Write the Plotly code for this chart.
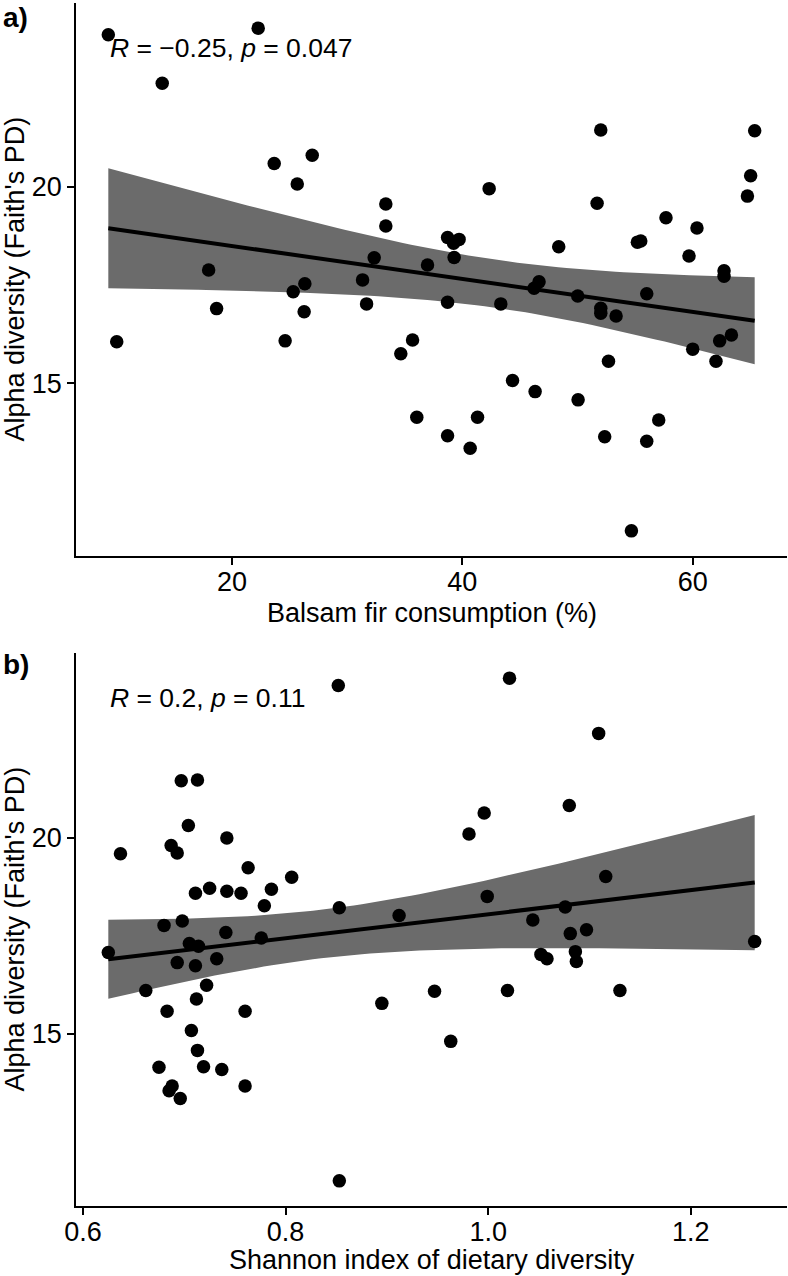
import numpy as np
import plotly.graph_objects as go
from plotly.subplots import make_subplots

# ---------------- data ----------------
fir_pct = [9.27, 22.28, 13.95, 23.67, 26.97, 25.67, 33.36, 33.36, 32.35, 17.98,
           26.33, 25.32, 31.34, 31.69, 26.27, 18.67, 10.00, 24.62, 34.66, 35.68,
           36.05, 38.72, 38.72, 40.68, 41.32, 43.34, 44.36, 46.32, 46.23, 46.66,
           50.02, 50.05, 52.02, 52.02, 53.35, 52.69, 52.36, 54.68, 56.01, 57.05,
           56.01, 60.00, 62.02, 62.34, 63.36, 62.72, 62.72, 52.02, 65.38, 65.03,
           64.75, 42.33, 51.70, 57.68, 60.37, 38.72, 39.72, 39.24, 39.29, 48.37,
           55.20, 55.49, 59.68, 36.98]
faith_a = [23.86, 24.03, 22.63, 20.59, 20.80, 20.07, 19.56, 19.00, 18.19, 17.88,
           17.53, 17.33, 17.63, 17.02, 16.82, 16.90, 16.06, 16.08, 15.75, 16.10,
           14.14, 17.06, 13.67, 13.35, 14.14, 17.02, 15.07, 14.79, 17.42, 17.58,
           17.22, 14.58, 16.91, 16.78, 16.71, 15.56, 13.64, 11.25, 13.53, 14.07,
           17.28, 15.87, 15.56, 16.08, 16.23, 17.86, 17.72, 21.44, 21.42, 20.28,
           19.76, 19.95, 19.58, 19.21, 18.95, 18.71, 18.66, 18.56, 18.20, 18.47,
           18.59, 18.62, 18.24, 18.01]

shannon = [0.852, 0.697, 0.713, 0.704, 0.742, 0.637, 0.687, 0.693, 0.763, 0.806,
           0.725, 0.711, 0.742, 0.756, 0.786, 0.779, 0.853, 0.912, 0.680, 0.698,
           0.741, 0.776, 0.705, 0.714, 0.625, 0.693, 0.711, 0.732, 0.662, 0.722,
           0.712, 0.683, 0.760, 0.895, 0.707, 0.713, 0.675, 0.719, 0.737, 0.688,
           0.685, 0.696, 0.760, 0.853, 1.021, 1.109, 1.080, 0.996, 0.981, 1.116,
           0.999, 1.076, 1.044, 1.081, 1.097, 1.263, 1.052, 1.058, 1.086, 1.087,
           0.947, 1.019, 1.130, 0.963]
faith_b = [23.88, 21.45, 21.47, 20.31, 19.99, 19.59, 19.80, 19.61, 19.23, 18.99,
           18.71, 18.58, 18.63, 18.58, 18.68, 18.26, 18.21, 18.01, 17.76, 17.87,
           17.58, 17.44, 17.30, 17.23, 17.07, 16.81, 16.73, 16.91, 16.10, 16.23,
           15.88, 15.57, 15.57, 15.77, 15.08, 14.57, 14.14, 14.15, 14.08, 13.66,
           13.54, 13.34, 13.66, 11.24, 24.07, 22.66, 20.82, 20.63, 20.09, 19.01,
           18.50, 18.23, 17.90, 17.55, 17.65, 17.35, 17.02, 16.91, 17.09, 16.84,
           16.08, 16.10, 16.10, 14.80]

labels_stat = ["<i>R</i> = \u22120.25, <i>p</i> = 0.047",
               "<i>R</i> = 0.2, <i>p</i> = 0.11"]
panel_tags = ["<b>a)</b>", "<b>b)</b>"]
x_titles = ["Balsam fir consumption (%)", "Shannon index of dietary diversity"]
y_title = "Alpha diversity (Faith's PD)"
x_tickvals = [[20, 40, 60], [0.6, 0.8, 1.0, 1.2]]
x_ticktext = [["20", "40", "60"], ["0.6", "0.8", "1.0", "1.2"]]
y_tickvals = [15, 20]

T_CRIT = 1.999  # t(0.975, df = n - 2)

FONT = "Liberation Sans, Arial, Helvetica, sans-serif"
BAND = "#6b6b6b"


def lm_band(x, y, npts=80):
    x = np.asarray(x, float)
    y = np.asarray(y, float)
    n = len(x)
    b1, b0 = np.polyfit(x, y, 1)
    resid = y - (b0 + b1 * x)
    s = np.sqrt(np.sum(resid ** 2) / (n - 2))
    xm = x.mean()
    sxx = np.sum((x - xm) ** 2)
    xg = np.linspace(x.min(), x.max(), npts)
    yg = b0 + b1 * xg
    se = s * np.sqrt(1.0 / n + (xg - xm) ** 2 / sxx)
    return xg, yg, yg - T_CRIT * se, yg + T_CRIT * se


def padded(v):
    lo, hi = min(v), max(v)
    d = (hi - lo) * 0.05
    return [lo - d, hi + d]


fig = make_subplots(rows=2, cols=1, vertical_spacing=0.0)

datasets = [(fir_pct, faith_a), (shannon, faith_b)]
for i, (xs, ys) in enumerate(datasets):
    r = i + 1
    xg, yg, lo, hi = lm_band(xs, ys)
    fig.add_trace(go.Scatter(x=np.concatenate([xg, xg[::-1]]),
                             y=np.concatenate([hi, lo[::-1]]),
                             fill="toself", fillcolor=BAND, line=dict(width=0),
                             mode="lines", hoverinfo="skip", showlegend=False),
                  row=r, col=1)
    fig.add_trace(go.Scatter(x=xg, y=yg, mode="lines",
                             line=dict(color="black", width=4),
                             showlegend=False), row=r, col=1)
    fig.add_trace(go.Scatter(x=xs, y=ys, mode="markers",
                             marker=dict(color="black", size=13.5, line=dict(width=0)),
                             showlegend=False), row=r, col=1)

# domains (pixel layout: panel a 3..556, panel b 653..1206)
H = 1276
top_m, bot_m = 3, 70
plot_h = H - top_m - bot_m
def dom(y_top, y_bot):
    return [(H - bot_m - y_bot) / plot_h, (H - bot_m - y_top) / plot_h]

doms = [dom(3, 556), dom(653, 1206)]

axis_common = dict(showline=True, linecolor="black", linewidth=1.8,
                   ticks="outside", ticklen=7, tickwidth=1.8, tickcolor="black",
                   showgrid=False, zeroline=False,
                   tickfont=dict(family=FONT, size=27, color="black"))

for i, (xs, ys) in enumerate(datasets):
    r = i + 1
    fig.update_xaxes(range=padded(xs), tickvals=x_tickvals[i], ticktext=x_ticktext[i],
                     ticklabelstandoff=-6, **axis_common, row=r, col=1)
    fig.update_yaxes(range=padded(ys), tickvals=y_tickvals, domain=doms[i],
                     **axis_common, row=r, col=1)

annos = []
title_shift = [-57, -54]
tag_shift = [-14, -11]
for i in range(2):
    xa = "x" if i == 0 else "x2"
    ya = "y" if i == 0 else "y2"
    # x title
    annos.append(dict(text=x_titles[i], xref=xa + " domain", yref=ya + " domain",
                      x=0.5, y=0, xanchor="center", yanchor="middle", yshift=title_shift[i],
                      showarrow=False, font=dict(family=FONT, size=27, color="black")))
    # y title
    annos.append(dict(text=y_title, xref=xa + " domain", yref=ya + " domain",
                      x=0, y=0.5, xanchor="center", yanchor="middle", xshift=-62,
                      textangle=-90, showarrow=False,
                      font=dict(family=FONT, size=27, color="black")))
    # stat label
    annos.append(dict(text=labels_stat[i], xref=xa + " domain", yref=ya + " domain",
                      x=0, y=1, xanchor="left", yanchor="middle", xshift=32, yshift=-45,
                      showarrow=False, font=dict(family=FONT, size=26.5, color="black")))
    # panel tag
    annos.append(dict(text=panel_tags[i], xref="paper", yref=ya + " domain",
                      x=0, y=1, xanchor="left", yanchor="middle", xshift=-75,
                      yshift=tag_shift[i],
                      showarrow=False, font=dict(family=FONT, size=28, color="black")))

fig.update_layout(width=788, height=1276,
                  margin=dict(l=76, r=1, t=top_m, b=bot_m),
                  plot_bgcolor="white", paper_bgcolor="white",
                  annotations=annos, showlegend=False)

fig.write_html("out.html")
